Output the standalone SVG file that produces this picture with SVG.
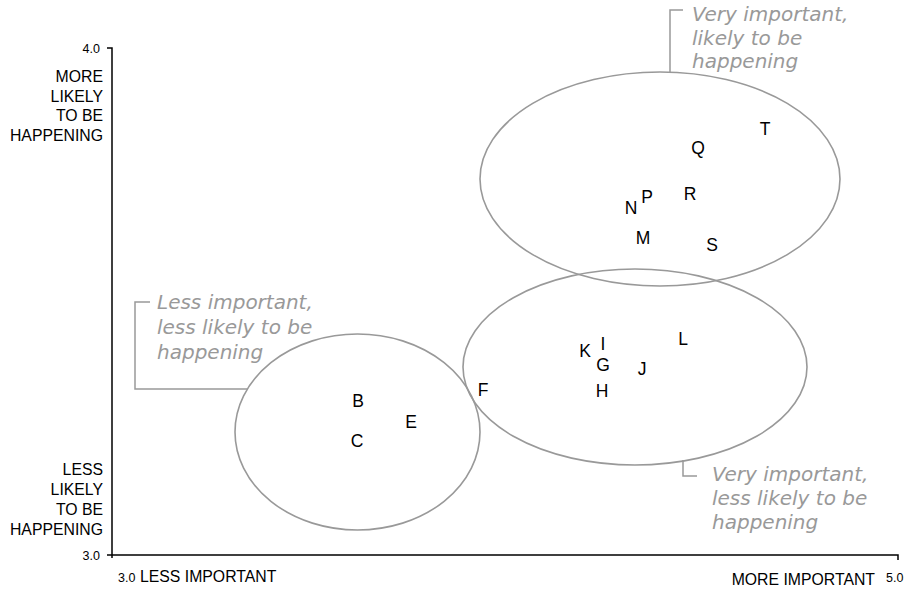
<svg xmlns="http://www.w3.org/2000/svg" width="916" height="590" viewBox="0 0 916 590">
<style>
.ax{stroke:#000;stroke-width:1.5;fill:none}
.el{stroke:#999;stroke-width:1.6;fill:none}
.co{stroke:#999;stroke-width:1.5;fill:none}
.lab{font-family:"Liberation Sans",Arial,sans-serif;font-size:15.8px;fill:#000}
.num{font-family:"Liberation Sans",Arial,sans-serif;font-size:12.5px;fill:#000}
.pt{font-family:"Liberation Sans",Arial,sans-serif;font-size:17.5px;fill:#000;text-anchor:middle}
.note{font-family:"DejaVu Sans",Verdana,sans-serif;font-size:20px;font-style:italic;fill:#999}
</style>
<rect width="916" height="590" fill="#fff"/>
<g id="axes">
<path class="ax" d="M107,48 H112 V558 M107,555 H898 V560"/>
<text class="num" x="100" y="53" text-anchor="end">4.0</text>
<text class="num" x="100" y="560" text-anchor="end">3.0</text>
<text class="num" x="118" y="582">3.0</text>
<text class="num" x="886" y="582">5.0</text>
<text class="lab" x="140" y="582">LESS IMPORTANT</text>
<text class="lab" x="875" y="585" text-anchor="end">MORE IMPORTANT</text>
<text class="lab" text-anchor="end"><tspan x="103" y="82">MORE</tspan><tspan x="103" y="102">LIKELY</tspan><tspan x="103" y="121">TO BE</tspan><tspan x="103" y="141">HAPPENING</tspan></text>
<text class="lab" text-anchor="end"><tspan x="103" y="475">LESS</tspan><tspan x="103" y="495">LIKELY</tspan><tspan x="103" y="515">TO BE</tspan><tspan x="103" y="535">HAPPENING</tspan></text>
</g>
<g id="group-top">
<ellipse class="el" cx="660" cy="179" rx="180" ry="107"/>
</g>
<g id="group-middle">
<ellipse class="el" cx="635" cy="367" rx="172" ry="98"/>
</g>
<g id="group-left">
<ellipse class="el" cx="357.5" cy="432" rx="122.5" ry="98"/>
</g>
<g id="connectors">
<path class="co" d="M670,72 V10 H683"/>
<path class="co" d="M248,389 H135 V302 H150"/>
<path class="co" d="M683,460 V476 H697"/>
</g>
<g id="note-top">
<text class="note"><tspan x="692" y="21">Very important,</tspan><tspan x="692" y="45">likely to be</tspan><tspan x="692" y="68">happening</tspan></text>
</g>
<g id="note-left">
<text class="note"><tspan x="157" y="309">Less important,</tspan><tspan x="157" y="334">less likely to be</tspan><tspan x="157" y="359">happening</tspan></text>
</g>
<g id="note-bottom">
<text class="note"><tspan x="712" y="481">Very important,</tspan><tspan x="712" y="505">less likely to be</tspan><tspan x="712" y="529">happening</tspan></text>
</g>
<g id="points">
<text class="pt" x="765" y="135">T</text>
<text class="pt" x="698" y="154">Q</text>
<text class="pt" x="690" y="200">R</text>
<text class="pt" x="647" y="203">P</text>
<text class="pt" x="631" y="214">N</text>
<text class="pt" x="643" y="244">M</text>
<text class="pt" x="712" y="251">S</text>
<text class="pt" x="683" y="345">L</text>
<text class="pt" x="603" y="350">I</text>
<text class="pt" x="585" y="357">K</text>
<text class="pt" x="603" y="371">G</text>
<text class="pt" x="642" y="375">J</text>
<text class="pt" x="602" y="397">H</text>
<text class="pt" x="483" y="396">F</text>
<text class="pt" x="358" y="407">B</text>
<text class="pt" x="411" y="428">E</text>
<text class="pt" x="357" y="447">C</text>
</g>
</svg>
